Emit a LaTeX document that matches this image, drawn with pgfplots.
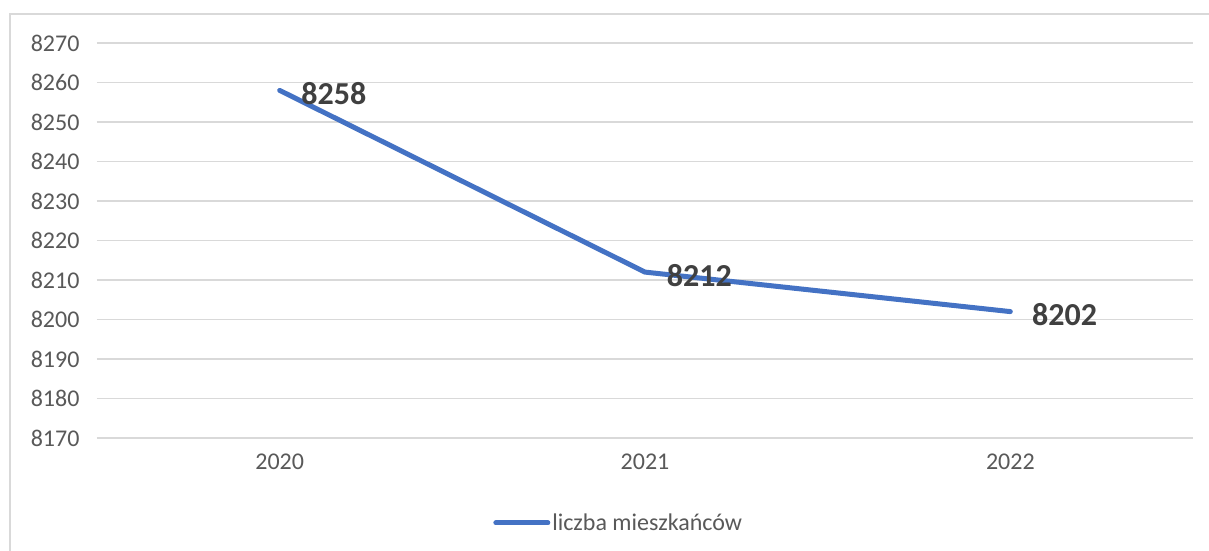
\documentclass[border=0pt]{standalone}
\usepackage{pgfplots}
\pgfplotsset{compat=1.18}
\usepackage{fontspec}
\setmainfont{Carlito}
\definecolor{txt}{HTML}{595959}
\definecolor{lbl}{HTML}{404040}
\definecolor{gridc}{HTML}{D9D9D9}
\definecolor{blu}{HTML}{4472C4}
\begin{document}
\begin{tikzpicture}[x=1pt,y=1pt]
\useasboundingbox (0,0) rectangle (1209,551);
\fill[white] (0,0) rectangle (1209,551);
\draw[gridc, line width=1.5pt] (10,0) -- (10,537) -- (1209,537);
\begin{axis}[
  at={(97pt,113pt)}, anchor=south west,
  scale only axis, width=1096pt, height=395pt,
  xmin=-0.5, xmax=2.5, ymin=8170, ymax=8270,
  xtick={0,1,2}, xticklabels={2020,2021,2022},
  ytick={8170,8180,...,8270},
  axis line style={draw=none},
  major tick length=0pt,
  xmajorgrids=false, ymajorgrids=true,
  grid style={draw=gridc, line width=1.5pt},
  tick label style={font=\fontsize{24}{28}\selectfont, text=txt},
  /pgf/number format/assume math mode=true,
  /pgf/number format/set thousands separator={},
  xticklabel style={yshift=-12pt},
  yticklabel style={xshift=-14pt},
  legend style={at={(0.476,-0.215)}, anchor=center, draw=none, fill=none,
    font=\fontsize{24}{28}\selectfont, text=txt, inner sep=0pt,
    /tikz/every odd column/.append style={column sep=0pt}},
  legend cell align=left,
  legend image code/.code={\draw[#1, line width=5pt, line cap=round] (0pt,0pt) -- (52pt,0pt);},
  clip=false,
]
\addplot[blu, line width=5pt, line cap=round, line join=round,
  nodes near coords,
  every node near coord/.append style={anchor=west, xshift=16pt, yshift=-3pt,
    font=\fontsize{32}{36}\selectfont\bfseries, text=lbl},
  /pgf/number format/set thousands separator={}]
  coordinates {(0,8258) (1,8212) (2,8202)};
\addlegendentry{liczba mieszkańców}
\end{axis}
\end{tikzpicture}
\end{document}
